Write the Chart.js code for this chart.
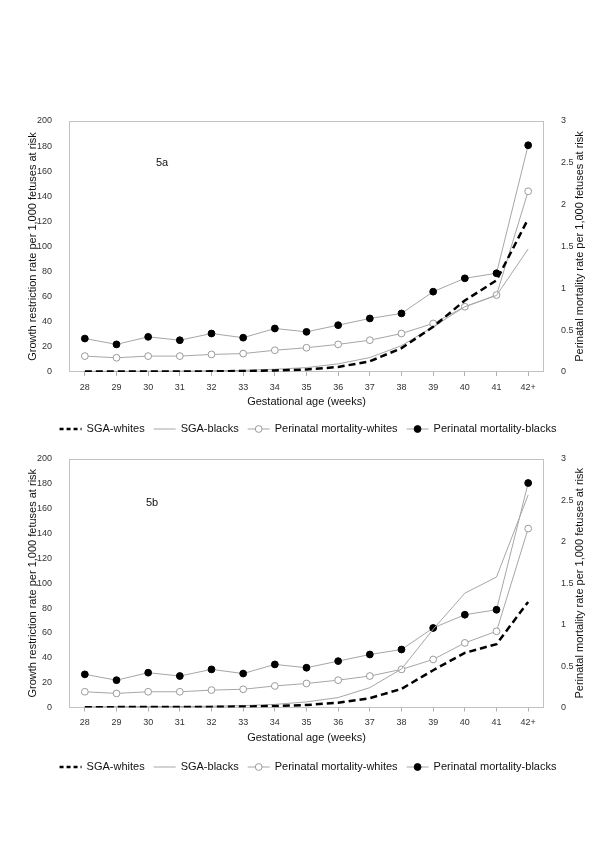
<!DOCTYPE html>
<html>
<head>
<meta charset="utf-8">
<script src="https://cdn.jsdelivr.net/npm/chart.js@4.4.0/dist/chart.umd.min.js"></script>
<style>
  html, body { margin: 0; padding: 0; background: #fff; }
  body { width: 600px; height: 849px; position: relative; overflow: hidden; }
  canvas { position: absolute; left: 0; }
  #chartA { top: 105px; }
  #chartB { top: 443px; }
</style>
</head>
<body>
<canvas id="chartA" width="600" height="338"></canvas>
<canvas id="chartB" width="600" height="338"></canvas>
<script>
const weeks = ['28', '29', '30', '31', '32', '33', '34', '35', '36', '37', '38', '39', '40', '41', '42+'];

// perinatal mortality (same in both panels), right axis
const pmWhites = [0.19, 0.17, 0.19, 0.19, 0.21, 0.22, 0.26, 0.29, 0.33, 0.38, 0.46, 0.58, 0.78, 0.92, 2.16];
const pmBlacks = [0.40, 0.33, 0.42, 0.38, 0.46, 0.41, 0.52, 0.48, 0.56, 0.64, 0.70, 0.96, 1.12, 1.18, 2.71];

// SGA rates, left axis
const sgaWhitesA = [0.3, 0.3, 0.4, 0.4, 0.5, 0.8, 1.2, 2.0, 4.0, 8.5, 19, 36, 57, 73, 122];
const sgaBlacksA = [0.5, 0.5, 0.6, 0.7, 0.9, 1.3, 2.2, 3.5, 6.5, 11.5, 21, 36, 52, 61, 98];
const sgaWhitesB = [0.3, 0.3, 0.4, 0.4, 0.5, 0.8, 1.2, 2.0, 3.8, 7.5, 15, 30, 44, 51, 85];
const sgaBlacksB = [0.5, 0.6, 0.7, 0.8, 1.0, 1.5, 2.5, 4.5, 8, 16, 31, 63, 92, 105, 171];

const seriesNames = ['SGA-whites', 'SGA-blacks', 'Perinatal mortality-whites', 'Perinatal mortality-blacks'];
const leftTitle = 'Growth restriction rate per 1,000 fetuses at risk';
const rightTitle = 'Perinatal mortality rate per 1,000 fetuses at risk';
const xTitle = 'Gestational age (weeks)';

const FONT = '"Liberation Sans", Arial, Helvetica, sans-serif';
const GRAY = '#a6a6a6';

// frame, panel tag, right-hand title and legend
const extras = {
    id: 'extras',
    beforeDatasetsDraw(chart) {
        const { ctx, chartArea: a } = chart;
        ctx.save();
        ctx.strokeStyle = '#c2c2c2';
        ctx.lineWidth = 1;
        ctx.strokeRect(Math.round(a.left) + 0.5, Math.round(a.top) + 0.5, Math.round(a.width) - 1, Math.round(a.height) - 1);
        ctx.restore();
    },
    afterDraw(chart, args, opts) {
        const { ctx, chartArea: a } = chart;
        ctx.save();
        ctx.fillStyle = '#111';
        ctx.font = '11px ' + FONT;
        ctx.textAlign = 'center';
        ctx.textBaseline = 'middle';
        ctx.fillText(opts.tag, a.left + opts.tagX, a.top + opts.tagY);

        // right title reads bottom to top like the left one
        ctx.save();
        ctx.translate(580, (a.top + a.bottom) / 2);
        ctx.rotate(-Math.PI / 2);
        ctx.fillText(rightTitle, 0, 0);
        ctx.restore();

        // legend
        const sym = 22, gap = 5, itemGap = 9;
        const ds = chart.data.datasets;
        let total = 0;
        ds.forEach((d, i) => {
            total += sym + gap + ctx.measureText(d.label).width + (i < ds.length - 1 ? itemGap : 0);
        });
        let x = 308 - total / 2;
        const y = opts.legendY;
        ctx.textAlign = 'left';
        ds.forEach((d) => {
            ctx.save();
            ctx.strokeStyle = d.borderColor;
            ctx.lineWidth = d.borderWidth;
            ctx.setLineDash(d.borderDash ? [4, 3] : []);
            ctx.beginPath();
            ctx.moveTo(x, y);
            ctx.lineTo(x + sym, y);
            ctx.stroke();
            if (d.pointRadius > 0) {
                ctx.setLineDash([]);
                ctx.beginPath();
                ctx.arc(x + sym / 2, y, d.pointRadius, 0, Math.PI * 2);
                ctx.fillStyle = d.pointBackgroundColor;
                ctx.fill();
                ctx.strokeStyle = d.pointBorderColor;
                ctx.lineWidth = 1;
                ctx.stroke();
            }
            ctx.restore();
            x += sym + gap;
            ctx.fillText(d.label, x, y);
            x += ctx.measureText(d.label).width + itemGap;
        });
        ctx.restore();
    }
};

function makeChart(id, sgaWhites, sgaBlacks, tag, tagX, tagY, padBottom) {
    const ctx = document.getElementById(id).getContext('2d');
    return new Chart(ctx, {
        type: 'line',
        data: {
            labels: weeks,
            datasets: [
                {
                    label: seriesNames[0],
                    data: sgaWhites,
                    yAxisID: 'y',
                    borderColor: '#000',
                    borderWidth: 2.5,
                    borderDash: [7, 4],
                    pointRadius: 0,
                    tension: 0,
                },
                {
                    label: seriesNames[1],
                    data: sgaBlacks,
                    yAxisID: 'y',
                    borderColor: GRAY,
                    borderWidth: 1,
                    pointRadius: 0,
                    tension: 0,
                },
                {
                    label: seriesNames[2],
                    data: pmWhites,
                    yAxisID: 'y1',
                    borderColor: GRAY,
                    borderWidth: 1,
                    pointRadius: 3.4,
                    pointBackgroundColor: '#fff',
                    pointBorderColor: '#9a9a9a',
                    pointBorderWidth: 1,
                    tension: 0,
                },
                {
                    label: seriesNames[3],
                    data: pmBlacks,
                    yAxisID: 'y1',
                    borderColor: GRAY,
                    borderWidth: 1,
                    pointRadius: 3.4,
                    pointBackgroundColor: '#000',
                    pointBorderColor: '#000',
                    pointBorderWidth: 1,
                    tension: 0,
                },
            ],
        },
        options: {
            responsive: false,
            animation: false,
            events: [],
            layout: { padding: { top: 16, left: 0, right: 0, bottom: padBottom } },
            plugins: {
                legend: { display: false },
                tooltip: { enabled: false },
                extras: { tag: tag, tagX: tagX, tagY: tagY, legendY: 324 },
            },
            scales: {
                x: {
                    offset: true,
                    grid: { drawOnChartArea: false, drawTicks: true, tickLength: 4, color: '#b0b0b0' },
                    border: { display: false },
                    ticks: { color: '#333', font: { family: FONT, size: 9 }, padding: 6, maxRotation: 0 },
                    title: { display: true, text: xTitle, color: '#111', font: { family: FONT, size: 11 }, padding: { top: 0, bottom: 7 } },
                    afterFit: (s) => { s.height = 44; },
                },
                y: {
                    position: 'left',
                    min: 0,
                    max: 200,
                    ticks: { stepSize: 20, color: '#333', font: { family: FONT, size: 9 }, padding: 9 },
                    grid: { display: false },
                    border: { display: false },
                    title: { display: true, text: leftTitle, color: '#111', font: { family: FONT, size: 11 }, padding: { top: 26, bottom: 0 } },
                    afterFit: (s) => { s.width = 69; },
                },
                y1: {
                    position: 'right',
                    min: 0,
                    max: 3,
                    ticks: {
                        stepSize: 0.5,
                        color: '#333',
                        font: { family: FONT, size: 9 },
                        padding: 9,
                        callback: (v) => String(+v),
                    },
                    grid: { display: false },
                    border: { display: false },
                    afterFit: (s) => { s.width = 56; },
                },
            },
        },
        plugins: [extras],
    });
}

makeChart('chartA', sgaWhitesA, sgaBlacksA, '5a', 93, 42, 27);
makeChart('chartB', sgaWhitesB, sgaBlacksB, '5b', 83, 44, 29.5);
</script>
</body>
</html>
